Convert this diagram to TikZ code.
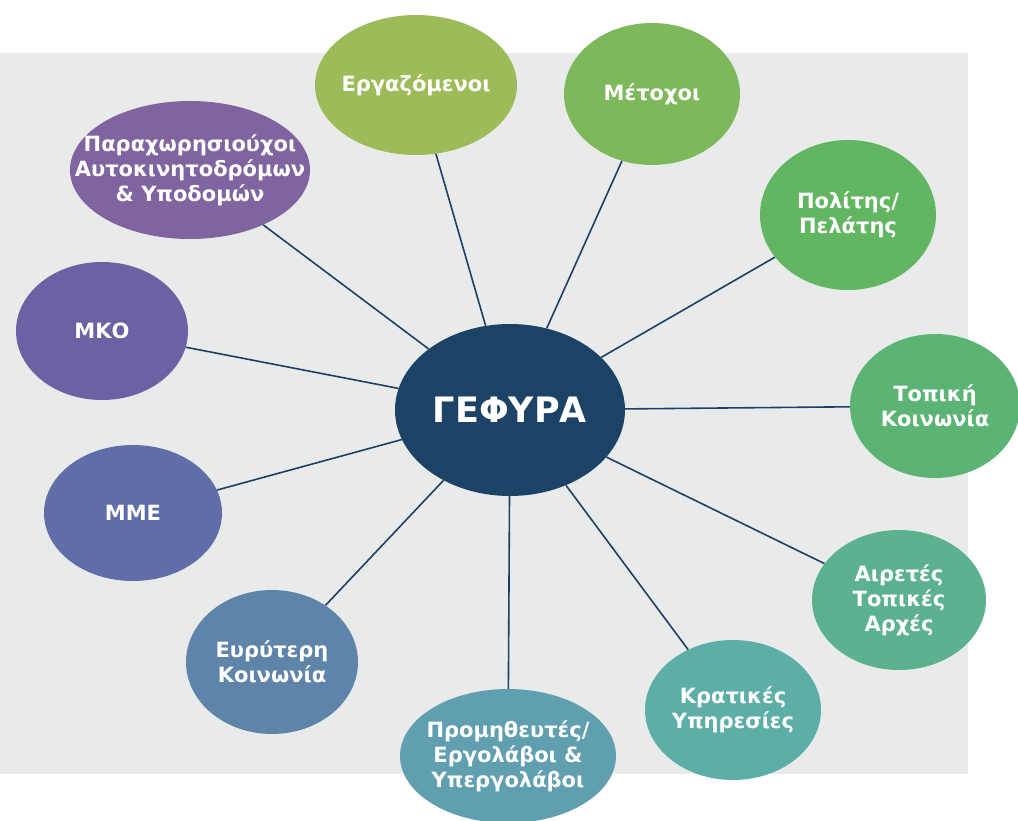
\documentclass[tikz,border=0pt]{standalone}
\usepackage{fontspec}
\setmainfont{DejaVu Sans}
\usetikzlibrary{shapes.geometric}

\definecolor{bgGray}{HTML}{E9EBEA}
\definecolor{linkBlue}{HTML}{1D3F66}
\definecolor{hubBlue}{HTML}{1C4266}
\definecolor{cErg}{HTML}{9DBB59}
\definecolor{cMet}{HTML}{7DB85A}
\definecolor{cPol}{HTML}{62B662}
\definecolor{cTop}{HTML}{5BB474}
\definecolor{cAir}{HTML}{5CB28F}
\definecolor{cKra}{HTML}{5DAEA7}
\definecolor{cPro}{HTML}{5F9FAF}
\definecolor{cEvr}{HTML}{5E85A9}
\definecolor{cMme}{HTML}{5F6EA8}
\definecolor{cMko}{HTML}{6B62A3}
\definecolor{cPar}{HTML}{7F64A0}

\tikzset{
  stakeholder/.style={ellipse, inner sep=-45pt, align=center, text=white,
    font=\fontsize{21}{25}\selectfont\bfseries},
  hub/.style={ellipse, inner sep=0pt, fill=hubBlue, text=white,
    font=\fontsize{35}{40}\selectfont\bfseries},
  link/.style={draw=linkBlue, line width=1.6pt}
}

\begin{document}
\begin{tikzpicture}[x=1pt, y=-1pt]
% Canvas and grey panel
\useasboundingbox (0,0) rectangle (1018,821);
\fill[bgGray] (0,53) rectangle (968,774);

% Central node
\node[hub, minimum width=230pt, minimum height=172pt] (gefyra) at (510,410) {ΓΕΦΥΡΑ};

% Stakeholders
\node[stakeholder, fill=cErg, minimum width=202pt, minimum height=140pt] (ergazomenoi) at (416,85) {Εργαζόμενοι};
\node[stakeholder, fill=cMet, minimum width=176pt, minimum height=142pt] (metochoi) at (652,94) {Μέτοχοι};
\node[stakeholder, fill=cPol, minimum width=176pt, minimum height=150pt] (polites) at (848,215) {Πολίτης/\\Πελάτης};
\node[stakeholder, fill=cTop, minimum width=170pt, minimum height=144pt] (topiki) at (935,406) {Τοπική\\Κοινωνία};
\node[stakeholder, fill=cAir, minimum width=174pt, minimum height=140pt] (airetes) at (899,600) {Αιρετές\\Τοπικές\\Αρχές};
\node[stakeholder, fill=cKra, minimum width=176pt, minimum height=140pt] (kratikes) at (733,710) {Κρατικές\\Υπηρεσίες};
\node[stakeholder, fill=cPro, minimum width=216pt, minimum height=134pt] (promitheftes) at (508,756) {Προμηθευτές/\\Εργολάβοι \&\\Υπεργολάβοι};
\node[stakeholder, fill=cEvr, minimum width=172pt, minimum height=144pt] (evryteri) at (272,662) {Ευρύτερη\\Κοινωνία};
\node[stakeholder, fill=cMme, minimum width=178pt, minimum height=136pt] (mme) at (133,513) {ΜΜΕ};
\node[stakeholder, fill=cMko, minimum width=172pt, minimum height=138pt] (mko) at (102,331) {ΜΚΟ};
\node[stakeholder, fill=cPar, minimum width=240pt, minimum height=138pt] (parachorisiouchoi) at (190,170) {Παραχωρησιούχοι\\Αυτοκινητοδρόμων\\\& Υποδομών};

% Connectors
\foreach \s in {ergazomenoi, metochoi, polites, topiki, airetes, kratikes,
                promitheftes, evryteri, mme, mko, parachorisiouchoi}
  \draw[link] (gefyra) -- (\s);

\end{tikzpicture}
\end{document}
